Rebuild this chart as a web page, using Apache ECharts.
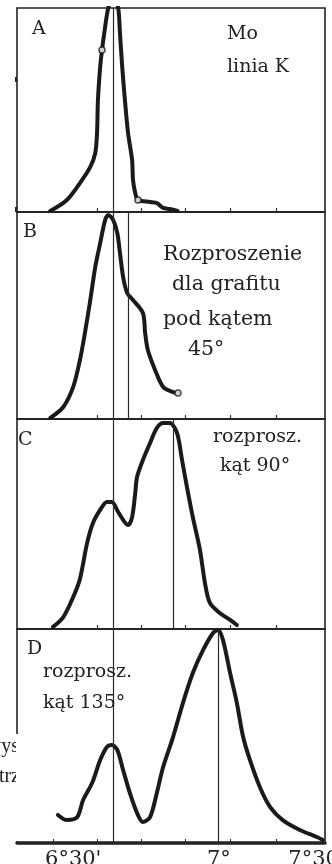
<!DOCTYPE html>
<html>
<head>
<meta charset="utf-8">
<style>
  html, body { margin: 0; padding: 0; background: #fff; }
  #chart { width: 332px; height: 864px; }
</style>
<script src="https://cdn.jsdelivr.net/npm/echarts@6/dist/echarts.min.js"></script>
</head>
<body>
<div id="chart"></div>
<script>
// Compton scattering of the Mo K line: intensity vs. calcite crystal angle (arc-minutes)

// Panel A: primary Mo K line
const aAngle = [382.7, 386.4, 389.3, 391.6, 392.7, 393.1, 393.3, 393.8, 394.2, 394.9, 395.6, 396.7, 397.8, 398.2, 398.7, 399.3, 400.0, 400.9, 401.1, 401.6, 402.2, 404.9, 406.4, 407.8, 409.3, 411.0];
const aCount = [0.5, 5.9, 14.2, 22.1, 28.9, 38.7, 54.9, 71.1, 79.4, 90.7, 100, 106, 100, 87.7, 71.1, 54.9, 38.7, 25.5, 15.7, 9.3, 5.9, 4.9, 4.4, 2.0, 1.5, 0.5];
const aMarkAngle = [394.2, 402.2];
const aMarkCount = [79.4, 5.9];

// Panel B: graphite, 45 degrees
const bAngle = [382.7, 385.6, 387.8, 389.3, 390.4, 391.6, 392.7, 393.8, 394.9, 395.6, 396.7, 397.6, 398.2, 398.9, 399.8, 401.1, 403.3, 403.8, 404.4, 406.0, 407.8, 410.0, 411.1];
const bCount = [0.5, 5.8, 15.5, 28.5, 41.5, 57.5, 73.4, 85.0, 96.1, 98.6, 96.1, 89.9, 80.2, 68.6, 60.9, 57.5, 51.2, 41.5, 33.3, 23.7, 15.5, 13.0, 12.6];
const bMarkAngle = [411.1];
const bMarkCount = [12.6];

// Panel C: 90 degrees
const cAngle = [383.3, 385.6, 387.8, 389.3, 390.9, 392.2, 393.8, 395.3, 396.4, 397.8, 400.0, 400.9, 401.6, 402.0, 403.3, 404.9, 406.4, 407.8, 409.3, 410.9, 412.0, 413.1, 414.4, 416.0, 417.1, 418.2, 420.4, 422.7, 424.2];
const cCount = [1.0, 5.7, 15.2, 23.8, 41.0, 50.5, 56.7, 60.5, 60.5, 55.7, 49.5, 53.3, 64.8, 72.4, 80.5, 88.6, 95.7, 98.1, 98.1, 93.3, 80.5, 67.6, 53.3, 37.6, 21.9, 12.4, 7.6, 4.3, 1.9];

// Panel D: 135 degrees
const dAngle = [384.4, 386.4, 388.7, 390.0, 392.0, 393.8, 395.3, 396.4, 397.6, 398.9, 400.4, 402.0, 403.3, 404.9, 406.4, 407.8, 410.0, 412.2, 414.4, 416.7, 418.9, 420.0, 421.1, 422.7, 424.2, 425.6, 427.1, 429.3, 431.6, 434.4, 438.2, 442.0, 443.3];
const dCount = [13.1, 10.7, 12.1, 20.1, 28.0, 38.8, 44.9, 45.8, 43.5, 34.1, 23.4, 14.0, 9.8, 12.1, 23.4, 35.5, 49.5, 65.4, 79.4, 90.2, 98.1, 99.5, 94.9, 79.4, 65.4, 49.5, 38.8, 26.2, 16.8, 10.7, 6.1, 2.8, 1.4];

// Reference lines: unshifted line (all panels) and shifted line per panel
const unshiftedAngle = 396.7;
const shiftedAngle = [null, 400.0, 410.0, 420.0];

// Axis ticks and labels
const tickAngles = [383.3, 393.1, 402.9, 412.7, 422.7, 432.9];
const labelAngles = [387.8, 420.2, 441.9];
const labelTexts = ["6°30'", "7°", "7°30'"];

const panelLetters = ['A', 'B', 'C', 'D'];
const panelNotes = [
  ['Mo', 'linia K'],
  ['Rozproszenie', 'dla grafitu', 'pod kątem', '45°'],
  ['rozprosz.', 'kąt 90°'],
  ['rozprosz.', 'kąt 135°']
];

const X_MIN = 375.3, X_MAX = 443.8;
const panels = [
  { top: 8, height: 204 },
  { top: 212, height: 207 },
  { top: 419, height: 210 },
  { top: 629, height: 214 }
];
const curves = [[aAngle, aCount], [bAngle, bCount], [cAngle, cCount], [dAngle, dCount]];
const INK = '#1a1a1a';
const SERIF = '"DejaVu Serif", "Liberation Serif", serif';

const zip = (xs, ys) => xs.map((x, i) => [x, ys[i]]);

const grids = panels.map(p => ({
  left: 17, right: 7, top: p.top, height: p.height,
  outerBoundsMode: 'none', containLabel: false,
  show: true, borderColor: '#222', borderWidth: 1.6, backgroundColor: 'transparent'
}));

const xAxes = panels.map((p, i) => ({
  type: 'value', gridIndex: i, min: X_MIN, max: X_MAX,
  splitLine: { show: false },
  axisLine: { show: true, onZero: false, lineStyle: { color: '#222', width: i === 3 ? 3.5 : 1.6 } },
  axisTick: { show: true, inside: true, length: 4, customValues: tickAngles, lineStyle: { color: '#333', width: 1.2 } },
  axisLabel: {
    show: i === 3, customValues: labelAngles, margin: 6,
    fontFamily: SERIF, fontSize: 21, color: '#222',
    formatter: v => {
      let best = 0;
      labelAngles.forEach((a, k) => { if (Math.abs(a - v) < Math.abs(labelAngles[best] - v)) best = k; });
      return labelTexts[best];
    }
  }
}));

const yAxes = panels.map((p, i) => ({
  type: 'value', gridIndex: i, min: 0, max: 100, show: false
}));

const series = [];
curves.forEach(([xs, ys], i) => {
  const lines = [{ xAxis: unshiftedAngle }];
  if (shiftedAngle[i] !== null) lines.push({ xAxis: shiftedAngle[i] });
  series.push({
    type: 'line', xAxisIndex: i, yAxisIndex: i,
    data: zip(xs, ys), smooth: 0.3, showSymbol: false, clip: true,
    lineStyle: { color: INK, width: 4, join: 'round', cap: 'round' },
    markLine: {
      silent: true, symbol: 'none', label: { show: false },
      lineStyle: { color: '#2a2a2a', width: 1.2, type: 'solid' },
      data: lines
    },
    z: 3
  });
});
[[aMarkAngle, aMarkCount, 0], [bMarkAngle, bMarkCount, 1]].forEach(([xs, ys, i]) => {
  series.push({
    type: 'scatter', xAxisIndex: i, yAxisIndex: i, data: zip(xs, ys),
    symbol: 'circle', symbolSize: 6,
    itemStyle: { color: '#fff', borderColor: INK, borderWidth: 1.5 }, z: 4
  });
});

// Panel letters and captions (y = top of text box)
const noteLayout = [
  { xs: [227, 227], ys: [25, 58], size: 19 },
  { xs: [163, 172, 163, 188], ys: [244, 274, 309, 339], size: 20.5 },
  { xs: [213, 220], ys: [428, 457], size: 19 },
  { xs: [43, 43], ys: [663, 694], size: 19 }
];
const letterPos = [[32, 20], [23, 223], [18, 431], [27, 640]];
const graphics = [];
panelLetters.forEach((t, i) => {
  graphics.push({
    type: 'text', x: letterPos[i][0], y: letterPos[i][1], z: 20,
    style: { text: t, font: '19px ' + SERIF, fill: '#222', align: 'left', verticalAlign: 'top' }
  });
});
panelNotes.forEach((lines, i) => {
  const L = noteLayout[i];
  lines.forEach((t, k) => {
    graphics.push({
      type: 'text', x: L.xs[k], y: L.ys[k], z: 20,
      style: { text: t, font: L.size + 'px ' + SERIF, fill: '#222', align: 'left', verticalAlign: 'top' }
    });
  });
});
// Page text running beside the figure, cut by its edge
graphics.push({ type: 'text', x: 19, y: 737, z: 20,
  style: { text: 'wys', font: '20px "Liberation Serif", serif', fill: '#222', align: 'right', verticalAlign: 'top' } });
graphics.push({ type: 'text', x: 20, y: 767, z: 20,
  style: { text: 'strz', font: '20px "Liberation Serif", serif', fill: '#222', align: 'right', verticalAlign: 'top' } });
graphics.push({ type: 'rect', z: 21, shape: { x: 16, y: 734, width: 8, height: 107 }, style: { fill: '#fff' } });
// small specks on the left edge
graphics.push({ type: 'rect', z: 21, shape: { x: 15, y: 77, width: 2, height: 5 }, style: { fill: '#222' } });
graphics.push({ type: 'rect', z: 21, shape: { x: 15, y: 207, width: 2, height: 5 }, style: { fill: '#222' } });

const chart = echarts.init(document.getElementById('chart'), null, { renderer: 'canvas' });
chart.setOption({
  animation: false,
  backgroundColor: '#fff',
  grid: grids,
  xAxis: xAxes,
  yAxis: yAxes,
  series: series,
  graphic: graphics
});
</script>
</body>
</html>
